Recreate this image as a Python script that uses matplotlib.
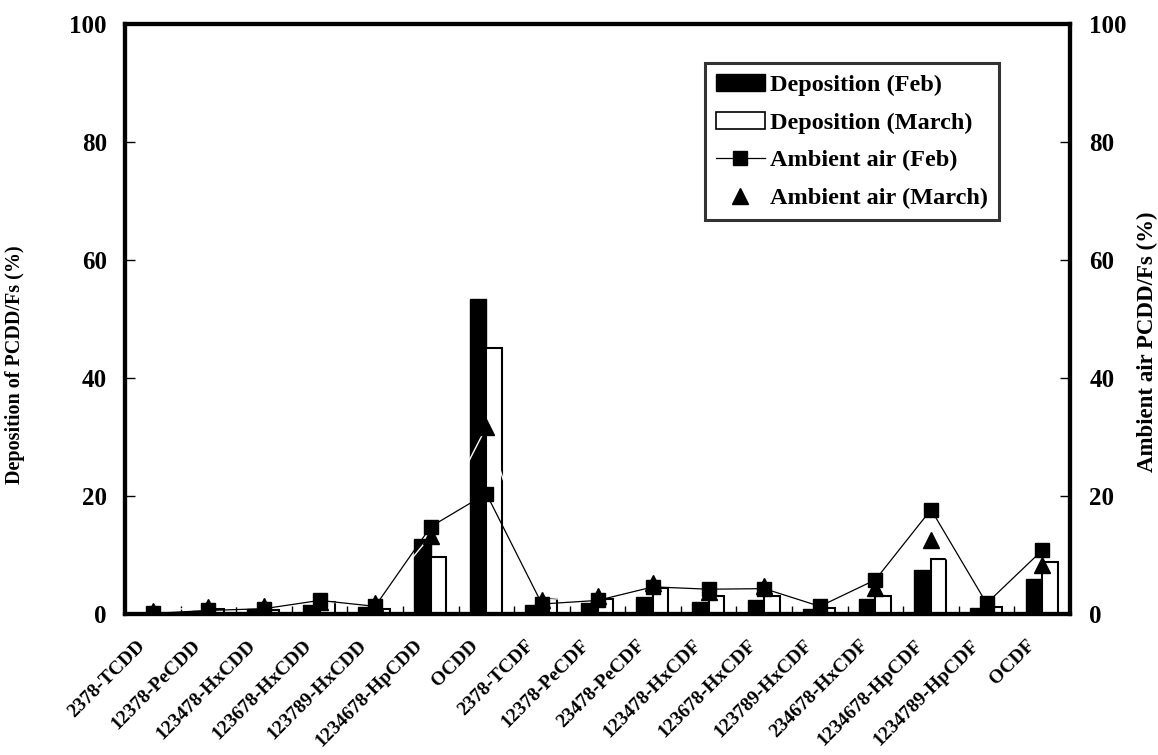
import matplotlib
matplotlib.use("Agg")
import matplotlib.pyplot as plt
import numpy as np
from matplotlib.patches import Patch
from matplotlib.lines import Line2D

categories = ['2378-TCDD', '12378-PeCDD', '123478-HxCDD', '123678-HxCDD', '123789-HxCDD',
              '1234678-HpCDD', 'OCDD', '2378-TCDF', '12378-PeCDF', '23478-PeCDF',
              '123478-HxCDF', '123678-HxCDF', '123789-HxCDF', '234678-HxCDF',
              '1234678-HpCDF', '1234789-HpCDF', 'OCDF']
dep_feb = [0.2, 0.5, 0.8, 1.5, 1.2, 12.7, 53.4, 1.5, 1.8, 2.9, 2.0, 2.4, 0.8, 2.5, 7.5, 1.0, 5.9]
dep_mar = [0.2, 0.8, 0.7, 2.0, 0.8, 9.7, 45.1, 2.5, 2.5, 4.4, 3.0, 3.0, 1.0, 3.0, 9.3, 1.2, 8.8]
air_feb = [0.1, 0.6, 0.9, 2.3, 1.3, 14.8, 20.4, 1.7, 2.3, 4.6, 4.2, 4.3, 1.3, 5.8, 17.7, 1.8, 10.8]
air_mar = [0.5, 1.2, 1.3, 2.0, 1.8, 13.3, 31.7, 2.4, 3.0, 5.2, 3.7, 4.7, 1.2, 4.4, 12.5, 1.5, 8.3]
yticks = [0, 20, 40, 60, 80, 100]

plt.rcParams['font.family'] = ['Liberation Serif', 'DejaVu Serif']
plt.rcParams['font.weight'] = 'bold'

fig = plt.figure(figsize=(11.58, 7.55), dpi=100)
ax = fig.add_axes([125/1158, 141/755, 945/1158, 590/755])
x = np.arange(len(categories))
bw = 0.3
ax.bar(x, dep_feb, width=-bw, align='edge', color='black', edgecolor='black', linewidth=1, zorder=2)
ax.bar(x, dep_mar, width=bw * 0.92, align='edge', color='white', edgecolor='black', linewidth=1.5, zorder=2)
ax.set_xlim(-0.5, len(categories) - 0.5)
ax.set_ylim(0, 100)
ax.set_yticks(yticks)
ax.set_yticklabels([str(v) for v in yticks], fontsize=18, fontweight='bold')
# label anchors sit slightly left of each category centre (zero-length ticks)
ax.set_xticks(x - 0.3)
ax.set_xticklabels(categories, rotation=45, ha='right', va='top', rotation_mode='anchor',
                   fontsize=14, fontweight='bold')
ax.set_xticks(np.arange(len(categories) + 1) - 0.5, minor=True)
ax.tick_params(axis='x', which='major', length=0, pad=16.5)
ax.tick_params(axis='x', which='minor', direction='in', length=6, width=1)
ax.tick_params(axis='y', direction='in', length=7, width=1, pad=13)
for s in ax.spines.values():
    s.set_linewidth(3)
ax.set_ylabel('Deposition of PCDD/Fs (%)', fontsize=14.5, fontweight='bold')
ax.yaxis.set_label_coords(-0.106, 0.422)

ax2 = ax.twinx()
ax2.set_ylim(0, 100)
ax2.set_yticks(yticks)
ax2.set_yticklabels([str(v) for v in yticks], fontsize=18, fontweight='bold')
ax2.tick_params(axis='y', direction='in', length=7, width=1, pad=14)
for s in ax2.spines.values():
    s.set_linewidth(3)
ax2.plot(x, air_mar, color='white', linewidth=1, marker='^', markersize=12,
         markerfacecolor='black', markeredgecolor='black', zorder=3)
ax2.plot(x, air_feb, color='black', linewidth=0.9, marker='s', markersize=10.5,
         markerfacecolor='black', markeredgecolor='black', zorder=4)
ax2.set_ylabel('Ambient air PCDD/Fs (%)', fontsize=16.5, fontweight='bold', rotation=90)
ax2.yaxis.set_label_coords(1.071, 0.461)

handles = [Patch(facecolor='black', edgecolor='black'),
           Patch(facecolor='white', edgecolor='black', linewidth=1.2),
           Line2D([], [], color='black', linewidth=0.9, marker='s', markersize=10.5),
           Line2D([], [], color='none', marker='^', markersize=12, markerfacecolor='black',
                  markeredgecolor='black')]
labels = ['Deposition (Feb)', 'Deposition (March)', 'Ambient air (Feb)', 'Ambient air (March)']
leg = ax2.legend(handles, labels, loc='upper left', bbox_to_anchor=(0.614, 0.934),
                 borderaxespad=0, prop={'weight': 'bold', 'size': 17.5},
                 frameon=True, fancybox=False, edgecolor='black', handlelength=2.0,
                 handletextpad=0.2, labelspacing=0.65, borderpad=0.45)
leg.get_frame().set_linewidth(2.2)

fig.savefig('out.png', dpi=100)
